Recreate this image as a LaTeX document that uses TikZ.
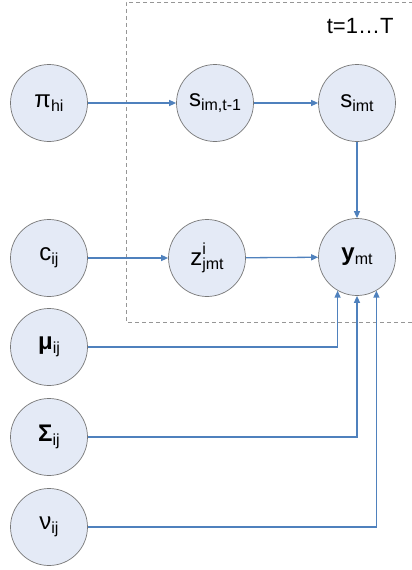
\documentclass[tikz,border=0pt]{standalone}
\usepackage{fontspec}
\setmainfont{Liberation Sans}
\usetikzlibrary{arrows.meta,calc}
\definecolor{nodefill}{RGB}{228,234,246}
\definecolor{nodeline}{RGB}{120,120,120}
\definecolor{arrowblue}{RGB}{79,129,189}
\definecolor{dashgray}{RGB}{150,150,150}
\newcommand\sbs[1]{\raisebox{-0.3ex}{\fontsize{16}{16}\selectfont #1}}
\begin{document}
\begin{tikzpicture}[x=1pt,y=-1pt,
  var/.style={circle,draw=nodeline,line width=0.7pt,fill=nodefill,minimum size=77pt,inner sep=0pt,font=\fontsize{24}{24}\selectfont},
  link/.style={draw=arrowblue,line width=1.3pt,-{Triangle[length=7pt,width=6pt]}},
  plate/.style={draw=dashgray,line width=0.8pt,dash pattern=on 4pt off 3pt}]
\useasboundingbox (0,0) rectangle (412,570);
\draw[plate] (420,2) -- (126,2) -- (126,322) -- (420,322);
\node[anchor=base east,font=\fontsize{22}{22}\selectfont] (plab) at (397,33) {t=1…T};
\node[var] (pi) at (49,103) {π\sbs{hi}};
\node[var] (s1) at (215,103) {s\sbs{im,t-1}};
\node[var] (s2) at (357,103) {s\sbs{imt}};
\node[var] (c) at (49,258) {c\sbs{ij}};
\node[var] (z) at (207,258) {z\raisebox{-0.3ex}{\fontsize{16}{16}\selectfont\shortstack[l]{i\\jmt}}};
\node[var] (y) at (357,257) {\textbf{y}\sbs{mt}};
\node[var] (mu) at (49,347) {\textbf{μ}\sbs{ij}};
\node[var] (sig) at (49,437) {\textbf{Σ}\sbs{ij}};
\node[var] (nu) at (49,527) {ν\sbs{ij}};
\draw[link] (pi) -- (s1);
\draw[link] (s1) -- (s2);
\draw[link] (s2) -- (y);
\draw[link] (c) -- (z);
\draw[link] (z) -- (y);
\draw[link] (mu.east) -| (y.-120);
\draw[link] (sig.east) -| (y.south);
\draw[link] (nu.east) -| (y.-60);
\end{tikzpicture}
\end{document}
